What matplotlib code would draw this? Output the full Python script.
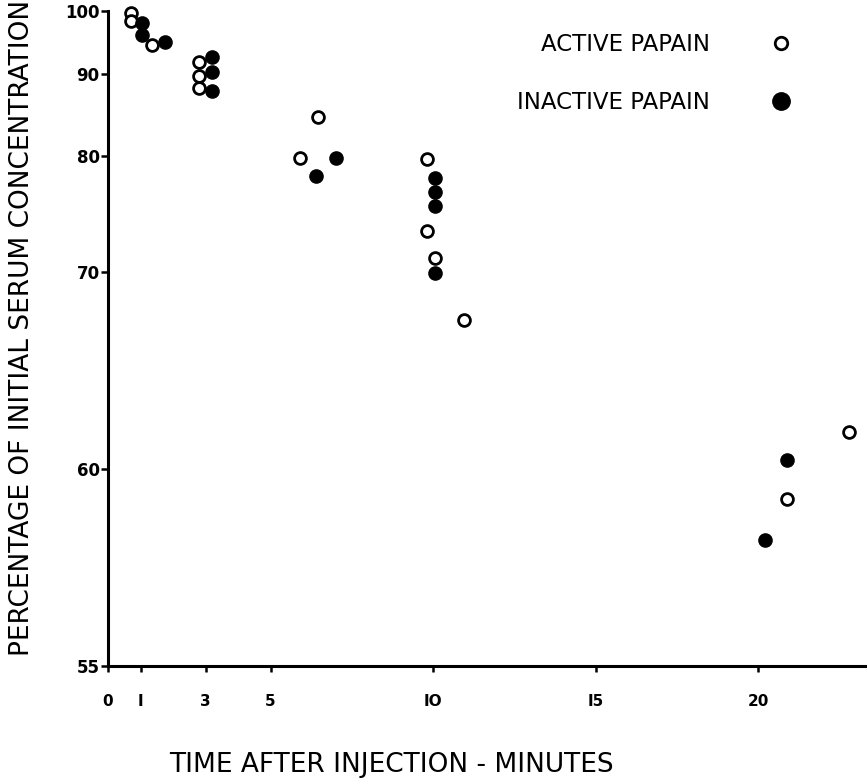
import numpy as np
import matplotlib
matplotlib.use("Agg")
import matplotlib.pyplot as plt
from matplotlib.lines import Line2D

# values (time in minutes, percent of initial)
active_t = [0.7, 0.7, 1.35, 2.8, 2.8, 2.8, 5.9, 6.45, 9.8, 9.8, 10.05, 10.95, 20.9, 22.8]
active_y = [99.6, 98.3, 94.4, 91.8, 89.8, 88.2, 79.8, 84.4, 79.7, 73.1, 71.0, 66.9, 59.0, 61.4]

inactive_t = [1.05, 1.05, 1.75, 3.2, 3.2, 3.2, 6.4, 7.0, 10.05, 10.05, 10.05, 10.05, 20.2, 20.9]
inactive_y = [97.9, 96.0, 94.9, 92.6, 90.4, 87.8, 78.0, 79.8, 77.8, 76.5, 75.2, 69.9, 57.8, 60.3]

x_ticks = [0, 1, 3, 5, 10, 15, 20]
x_tick_labels = ["0", "I", "3", "5", "IO", "I5", "20"]
y_ticks = [55, 60, 70, 80, 90, 100]

W, H = 867, 778
fig = plt.figure(figsize=(W / 100, H / 100), dpi=100)
ax = fig.add_axes([108 / W, 1 - 666 / H, (866 - 108) / W, (666 - 11) / H])

# the printed axis is logarithmic in (percent - 50)
def fwd(y):
    return np.log10(np.maximum(np.asarray(y, dtype=float) - 50, 1e-6))

def inv(v):
    return 10 ** np.asarray(v, dtype=float) + 50

ax.set_yscale("function", functions=(fwd, inv))
ax.set_ylim(55, 100)
ax.set_xlim(0, (866 - 108) / 32.5)

ax.plot(active_t, active_y, "o", ls="none", ms=8.5, mfc="white", mec="black", mew=2.0,
        clip_on=False)
ax.plot(inactive_t, inactive_y, "o", ls="none", ms=9.5, mfc="black", mec="black",
        clip_on=False)

for s in ["top", "right"]:
    ax.spines[s].set_visible(False)
for s in ["left", "bottom"]:
    ax.spines[s].set_linewidth(2.2)

ax.set_xticks(x_ticks)
ax.set_xticklabels(x_tick_labels, fontsize=11, fontweight="bold")
ax.set_yticks(y_ticks)
ax.set_yticklabels([str(v) for v in y_ticks], fontsize=12, fontweight="bold")
ax.yaxis.set_minor_locator(matplotlib.ticker.NullLocator())
ax.tick_params(axis="x", direction="out", length=4, width=1.8, pad=16)
ax.tick_params(axis="y", direction="out", length=5, width=1.8, pad=1)

fig.text(22 / W, 1 - 328 / H, "PERCENTAGE OF INITIAL SERUM CONCENTRATION",
         rotation=90, ha="center", va="center", fontsize=19)
fig.text(391 / W, 1 - 765 / H, "TIME AFTER INJECTION - MINUTES",
         ha="center", va="center", fontsize=19)

handles = [
    Line2D([], [], marker="o", ls="none", ms=9, mfc="white", mec="black", mew=2.0),
    Line2D([], [], marker="o", ls="none", ms=12.5, mfc="black", mec="black"),
]
ax.legend(handles, ["ACTIVE PAPAIN", "INACTIVE PAPAIN"], markerfirst=False,
          frameon=False, fontsize=16.5, handlelength=1.0, handletextpad=2.6,
          labelspacing=1.5, borderpad=0, loc="upper right",
          bbox_to_anchor=(804 / W, 1 - 22 / H), bbox_transform=fig.transFigure)

fig.savefig("out.png", dpi=100)
